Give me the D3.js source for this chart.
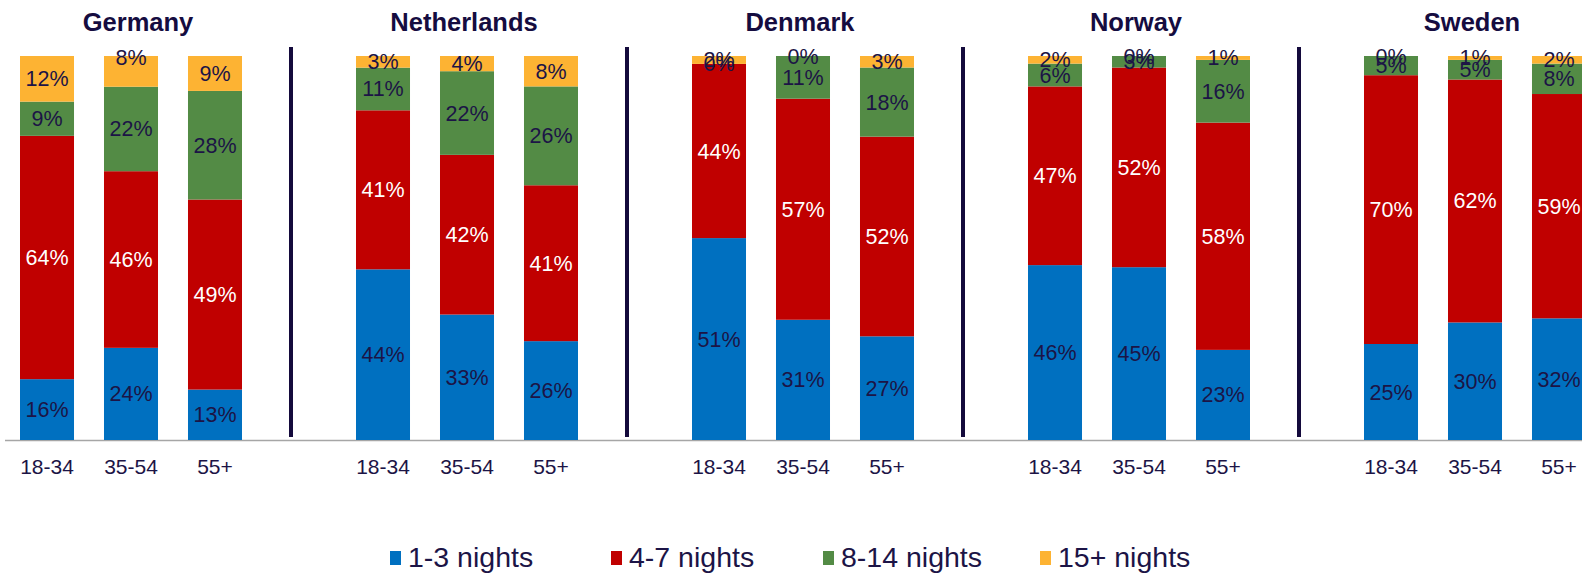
<!DOCTYPE html>
<html>
<head>
<meta charset="utf-8">
<script src="https://cdn.jsdelivr.net/npm/d3@7"></script>
<style>
  html, body { margin: 0; padding: 0; background: #fff; overflow: hidden; }
  svg { display: block; font-family: Arial, "Liberation Sans", sans-serif; }
</style>
</head>
<body>
<svg id="chart" width="1582" height="573"></svg>
<script>
// ---- data ----
const countries = ["Germany", "Netherlands", "Denmark", "Norway", "Sweden"];
const ageGroups = ["18-34", "35-54", "55+"];
const seriesNames = ["1-3 nights", "4-7 nights", "8-14 nights", "15+ nights"];
const seriesColors = ["#0070c0", "#c00000", "#538b45", "#fdb333"];
const labelColors = ["#1c1446", "#ffffff", "#1c1446", "#1c1446"];

// values per country: rows = age groups, columns = series (1-3, 4-7, 8-14, 15+)
const germany     = [[16, 64, 9, 12], [24, 46, 22, 8], [13, 49, 28, 9]];
const netherlands = [[44, 41, 11, 3], [33, 42, 22, 4], [26, 41, 26, 8]];
const denmark     = [[51, 44, 0, 2], [31, 57, 11, 0], [27, 52, 18, 3]];
const norway      = [[46, 47, 6, 2], [45, 52, 3, 0], [23, 58, 16, 1]];
const sweden      = [[25, 70, 5, 0], [30, 62, 5, 1], [32, 59, 8, 2]];
const countryValues = [germany, netherlands, denmark, norway, sweden];

// ---- layout ----
const svg = d3.select("#chart");
const textColor = "#1c1446";
const panelStep = 336;
const titleNudge = [10, 0, 0, 0, 0];
const labelNudge = { "Germany|35-54|15+ nights": -14 };
const panelX = d3.scaleLinear().domain([0, 1]).range([20, 20 + panelStep]);
const xInner = d3.scaleBand().domain(ageGroups).range([0, 222]).paddingInner(0.357).paddingOuter(0);
const y = d3.scaleLinear().domain([0, 1]).range([440, 56]);

// axis baseline
svg.append("line")
  .attr("x1", 5).attr("x2", 1582)
  .attr("y1", 440.5).attr("y2", 440.5)
  .attr("stroke", "#a6a6a6").attr("stroke-width", 1.5);

countries.forEach((country, ci) => {
  const x0 = panelX(ci);
  const g = svg.append("g").attr("transform", `translate(${x0},0)`);

  // title
  g.append("text")
    .attr("x", 108 + titleNudge[ci]).attr("y", 31)
    .attr("text-anchor", "middle")
    .attr("font-size", 25.5).attr("font-weight", "bold")
    .attr("fill", "#150c40")
    .text(country);

  const rows = countryValues[ci].map((vals, ai) => {
    const total = d3.sum(vals);
    const obj = { age: ageGroups[ai] };
    seriesNames.forEach((s, si) => { obj[s] = vals[si] / total; obj["raw" + si] = vals[si]; });
    return obj;
  });
  const stacked = d3.stack().keys(seriesNames)(rows);

  stacked.forEach((layer, si) => {
    layer.forEach(d => {
      g.append("rect")
        .attr("x", xInner(d.data.age))
        .attr("width", xInner.bandwidth())
        .attr("y", y(d[1]))
        .attr("height", Math.max(0, y(d[0]) - y(d[1])))
        .attr("fill", seriesColors[si]);
    });
  });
  stacked.forEach((layer, si) => {
    layer.forEach(d => {
      const nudge = labelNudge[country + "|" + d.data.age + "|" + seriesNames[si]] || 0;
      g.append("text")
        .attr("x", xInner(d.data.age) + xInner.bandwidth() / 2)
        .attr("y", (y(d[0]) + y(d[1])) / 2 + 7.5 + nudge)
        .attr("text-anchor", "middle")
        .attr("font-size", 21.5)
        .attr("fill", labelColors[si])
        .text(d.data["raw" + si] + "%");
    });
  });

  // x axis tick labels
  const axis = d3.axisBottom(xInner).tickSize(0).tickPadding(0);
  const ag = g.append("g").attr("transform", "translate(0,458)").call(axis);
  ag.select(".domain").remove();
  ag.selectAll("text")
    .attr("font-size", 21)
    .attr("font-family", "Arial, 'Liberation Sans', sans-serif")
    .attr("fill", textColor)
    .attr("dy", "0.75em");

  // separator
  if (ci < countries.length - 1) {
    g.append("line")
      .attr("x1", 271).attr("x2", 271)
      .attr("y1", 47).attr("y2", 437)
      .attr("stroke", "#140a3c").attr("stroke-width", 4);
  }
});

// legend
const legendX = [390, 611, 823, 1040];
const lg = svg.append("g");
seriesNames.forEach((s, i) => {
  lg.append("rect")
    .attr("x", legendX[i]).attr("y", 551)
    .attr("width", 11).attr("height", 14)
    .attr("fill", seriesColors[i]);
  lg.append("text")
    .attr("x", legendX[i] + 18).attr("y", 567)
    .attr("font-size", 28.5)
    .attr("fill", textColor)
    .text(s);
});
</script>
</body>
</html>
